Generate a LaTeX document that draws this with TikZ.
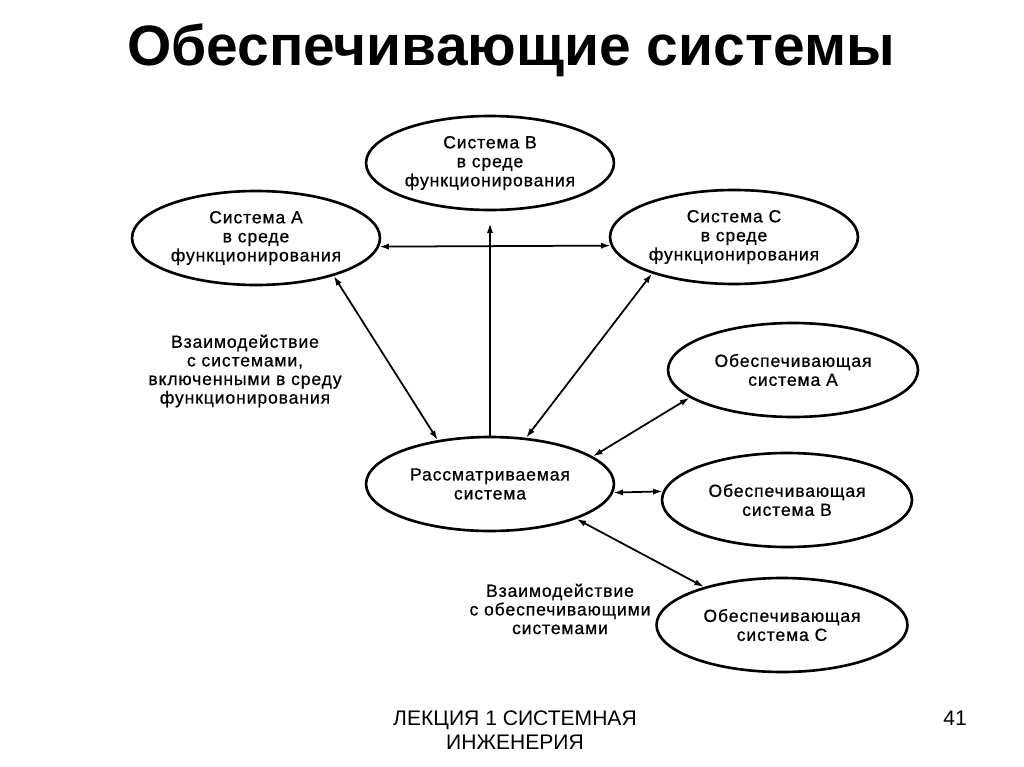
\documentclass[tikz,border=0pt]{standalone}
\usepackage{fontspec}
\setmainfont{Liberation Sans}
\usetikzlibrary{shapes.geometric,arrows.meta}

\begin{document}
\begin{tikzpicture}[x=0.02cm, y=-0.02cm, line width=1.5pt,
  sys/.style={draw, ellipse, inner sep=0pt, minimum width=4.96cm, minimum height=1.88cm, align=center, font=\fontsize{10}{10.8}\selectfont\addfontfeatures{LetterSpace=5,FakeBold=0.8}},
  link/.style={{Latex[length=5.5pt,width=3.5pt]}-{Latex[length=5.5pt,width=3.5pt]}, line width=1pt},
  note/.style={align=center, font=\fontsize{10}{10.6}\selectfont\addfontfeatures{LetterSpace=5,FakeBold=0.8}}]
\useasboundingbox (0,0) rectangle (1024,767);
\node[font=\bfseries\fontsize{32.4}{36}\selectfont] (title) at (511,50) {Обеспечивающие системы};
\node[sys] (sysB) at (490,163) {Система В\\в среде\\функционирования};
\node[sys] (sysA) at (256,238) {Система А\\в среде\\функционирования};
\node[sys] (sysC) at (734,237) {Система С\\в среде\\функционирования};
\node[sys, minimum width=5cm] (supA) at (793,370) {Обеспечивающая\\система А};
\node[sys] (main) at (490,484) {Рассматриваемая\\система};
\node[sys, minimum width=5cm] (supB) at (787,500) {Обеспечивающая\\система В};
\node[sys, minimum width=5.02cm] (supC) at (782,625) {Обеспечивающая\\система С};
\node[note] (noteA) at (245,371) {Взаимодействие\\с системами,\\включенными в среду\\функционирования};
\node[note] (noteB) at (560,609) {Взаимодействие\\с обеспечивающими\\системами};
\node[font=\fontsize{12}{13.6}\selectfont, align=center] (foot) at (515,730) {ЛЕКЦИЯ 1 СИСТЕМНАЯ\\ИНЖЕНЕРИЯ};
\node[font=\fontsize{12}{13.6}\selectfont] (page) at (955,718) {41};
\draw[link] (sysA.-4) -- (sysC.184);
\draw[-{Latex[length=5.5pt,width=3.5pt]}, line width=1pt, shorten >=0.24cm] (main.north) -- (sysB.south);
\draw[link] (sysA.334) -- (main.140);
\draw[link] (sysC.204) -- (main.52);
\draw[link] (main.15) -- (supA.195);
\draw[link] (main.-4) -- (supB.176.5);
\draw[link] (main.338) -- (supC.154);
\end{tikzpicture}
\end{document}
